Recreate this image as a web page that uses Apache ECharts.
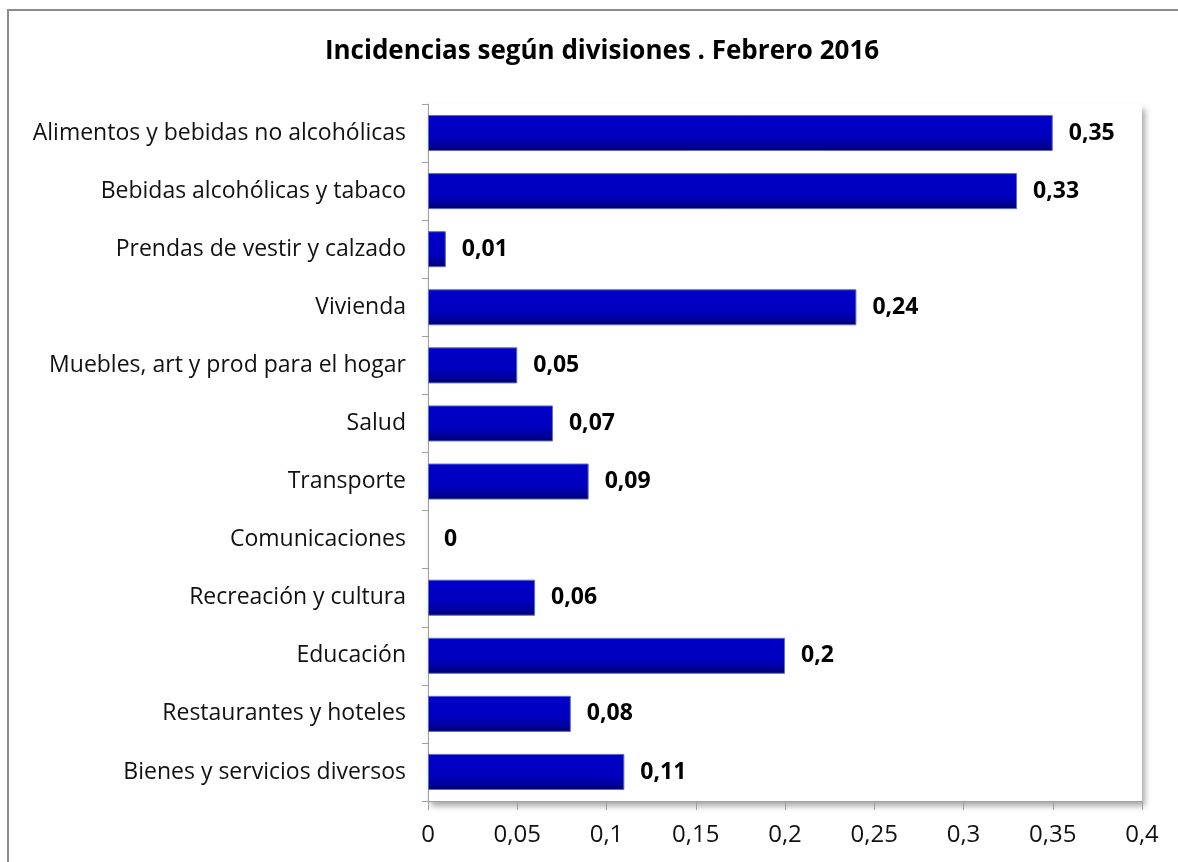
<!DOCTYPE html>
<html>
<head>
<meta charset="utf-8">
<script src="https://cdn.jsdelivr.net/npm/echarts@6/dist/echarts.min.js"></script>
<style>
  html, body { margin: 0; padding: 0; background: #fff; }
  #chart { width: 1178px; height: 862px; }
</style>
</head>
<body>
<div id="chart"></div>
<script>
const categories = [
  'Alimentos y bebidas no alcohólicas',
  'Bebidas alcohólicas y tabaco',
  'Prendas de vestir y calzado',
  'Vivienda',
  'Muebles, art y prod para el hogar',
  'Salud',
  'Transporte',
  'Comunicaciones',
  'Recreación y cultura',
  'Educación',
  'Restaurantes y hoteles',
  'Bienes y servicios diversos'
];
const values = [0.35, 0.33, 0.01, 0.24, 0.05, 0.07, 0.09, 0, 0.06, 0.2, 0.08, 0.11];
const xTicks = { min: 0, max: 0.4, interval: 0.05 };

const font = 'Open Sans';
const comma = v => String(v).replace('.', ',');

const chart = echarts.init(document.getElementById('chart'));

// zero bars get no outline so nothing shows for them
const barData = values.map(v => (v === 0 ? { value: v, itemStyle: { borderWidth: 0 } } : v));

const option = {
  animation: false,
  backgroundColor: '#fff',
  textStyle: { fontFamily: font },
  title: {
    text: 'Incidencias según divisiones . Febrero 2016',
    left: 597,
    textAlign: 'center',
    top: 34,
    textStyle: { fontFamily: font, fontSize: 26, fontWeight: 'bold', color: '#000' }
  },
  graphic: [
    {
      type: 'rect',
      shape: { x: 8, y: 10, width: 1200, height: 900 },
      style: { fill: 'none', stroke: '#8a8a8a', lineWidth: 2 },
      silent: true,
      z: 100
    }
  ],
  grid: {
    left: 428,
    right: 36,
    top: 104,
    bottom: 61,
    show: true,
    backgroundColor: '#fff',
    borderWidth: 0,
    shadowColor: 'rgba(0,0,0,0.35)',
    shadowBlur: 6,
    shadowOffsetX: 3,
    shadowOffsetY: 5
  },
  xAxis: {
    type: 'value',
    min: xTicks.min,
    max: xTicks.max,
    interval: xTicks.interval,
    splitLine: { show: false },
    axisLine: { show: true, lineStyle: { color: '#a0a0a0', width: 1 } },
    axisTick: { show: true, length: 9, lineStyle: { color: '#a0a0a0' } },
    axisLabel: {
      color: '#111',
      fontSize: 24,
      margin: 22,
      formatter: v => comma(Math.round(v * 100) / 100)
    }
  },
  yAxis: {
    type: 'category',
    data: categories,
    inverse: true,
    axisLine: { show: true, lineStyle: { color: '#a0a0a0', width: 1 } },
    axisTick: { show: true, length: 6, lineStyle: { color: '#a0a0a0' } },
    axisLabel: { color: '#111', fontSize: 23, margin: 22 }
  },
  series: [
    {
      type: 'bar',
      data: barData,
      barCategoryGap: '38%',
      itemStyle: {
        borderColor: '#5a6cc8',
        borderWidth: 1,
        color: new echarts.graphic.LinearGradient(0, 0, 0, 1, [
          { offset: 0, color: '#0000c8' },
          { offset: 0.6, color: '#0000c0' },
          { offset: 0.85, color: '#00009a' },
          { offset: 1, color: '#000060' }
        ])
      },
      label: {
        show: true,
        position: 'right',
        distance: 16,
        fontFamily: font,
        fontSize: 23,
        fontWeight: 'bold',
        color: '#000',
        formatter: p => comma(p.value)
      }
    }
  ]
};

chart.setOption(option);
</script>
</body>
</html>
